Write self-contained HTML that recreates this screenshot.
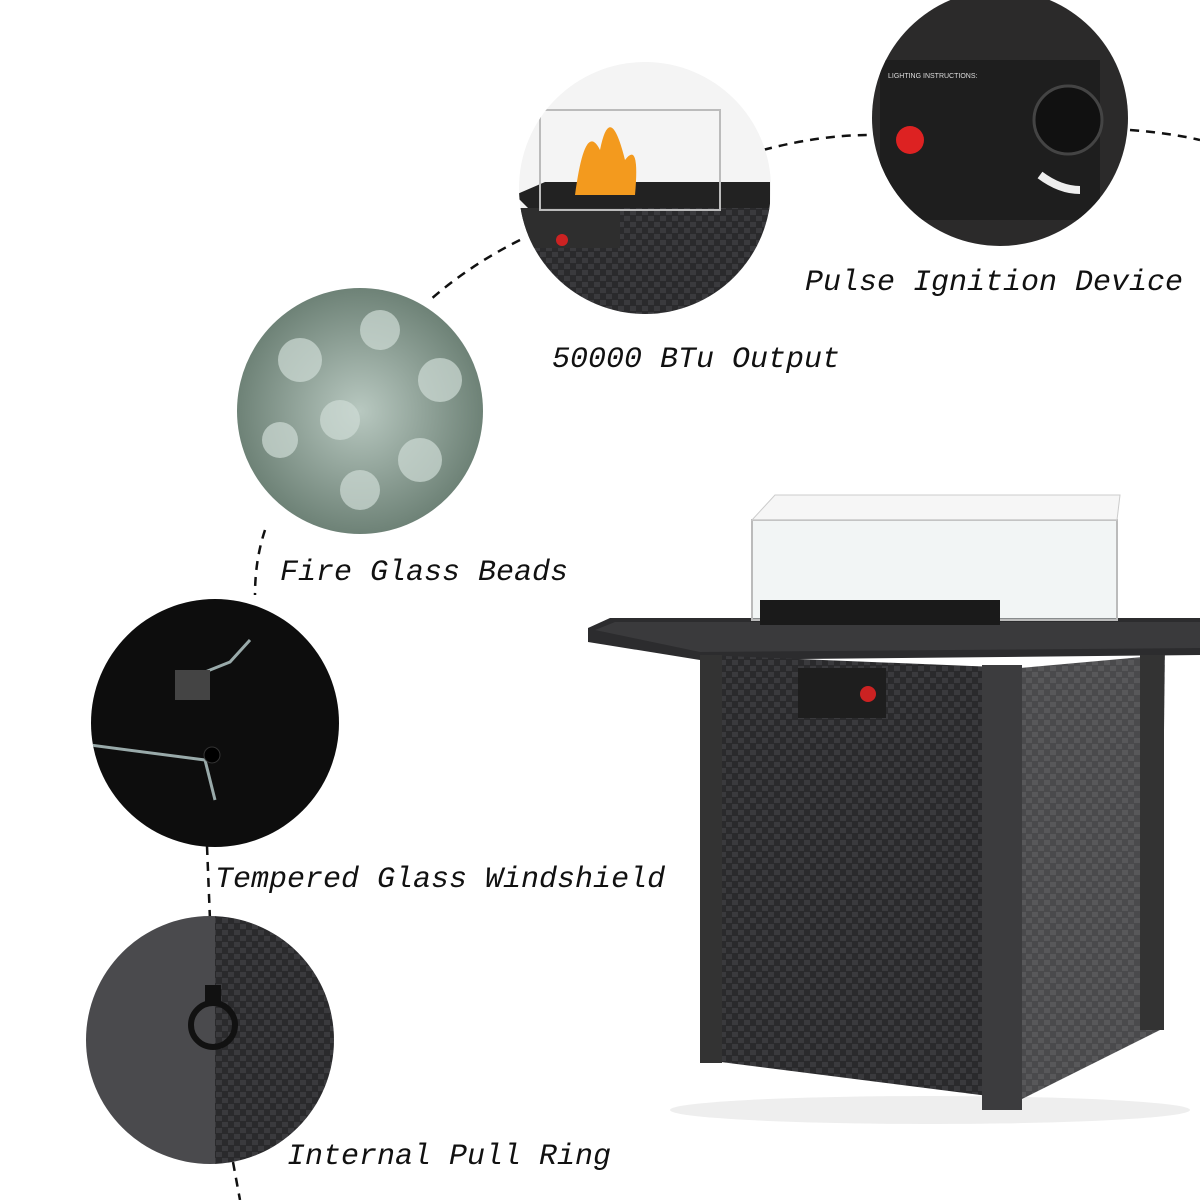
<!DOCTYPE html>
<html><head><meta charset="utf-8">
<style>
html,body{margin:0;padding:0;background:#fff;}
.wrap{position:relative;width:1200px;height:1200px;overflow:hidden;background:#fff;}
.t{position:absolute;font-family:"Liberation Mono",monospace;font-style:italic;font-size:30px;color:#111;white-space:nowrap;line-height:1;}
</style></head><body>
<div class="wrap">
<svg width="1200" height="1200" viewBox="0 0 1200 1200" style="position:absolute;left:0;top:0">
<defs>
<radialGradient id="bead" cx="50%" cy="50%" r="60%"><stop offset="0" stop-color="#b8c8c0"/><stop offset="1" stop-color="#5f7468"/></radialGradient>
<pattern id="wick" width="12" height="12" patternUnits="userSpaceOnUse"><rect width="12" height="12" fill="#2a2a2c"/><rect x="0" y="0" width="6" height="5" fill="#3a3a3d"/><rect x="6" y="6" width="6" height="5" fill="#3a3a3d"/></pattern>
<clipPath id="c1"><circle cx="645" cy="188" r="126"/></clipPath>
<clipPath id="c2"><circle cx="1000" cy="118" r="128"/></clipPath>
<clipPath id="c5"><circle cx="210" cy="1040" r="124"/></clipPath>
<clipPath id="c4"><circle cx="215" cy="723" r="124"/></clipPath>
</defs>
<g fill="none" stroke="#111" stroke-width="2.5" stroke-dasharray="9 7">
<path d="M1130 130 Q1170 133 1200 140"/>
<path d="M763 150 Q820 135 870 135"/>
<path d="M520 240 Q470 265 430 300"/>
<path d="M265 530 Q255 560 255 595"/>
<path d="M207 846 L210 920"/>
<path d="M233 1162 L240 1200"/>
</g>
<!-- top center circle -->
<g clip-path="url(#c1)">
<rect x="510" y="55" width="270" height="270" fill="#f4f4f4"/>
<polygon points="515,195 545,182 770,182 770,210 530,210" fill="#222"/>
<rect x="520" y="208" width="250" height="110" fill="url(#wick)"/>
<rect x="520" y="208" width="100" height="40" fill="#2e2e2e"/>
<circle cx="562" cy="240" r="6" fill="#c22"/>
<rect x="540" y="110" width="180" height="100" fill="none" stroke="#bbb" stroke-width="2"/>
<path d="M575 195 Q585 120 600 150 Q610 100 625 160 Q640 140 635 195 Z" fill="#f39a1e"/>
</g>
<!-- top right -->
<g clip-path="url(#c2)">
<rect x="860" y="-20" width="280" height="280" fill="#2b2a2a"/>
<rect x="880" y="60" width="220" height="160" fill="#1e1e1e"/>
<circle cx="910" cy="140" r="14" fill="#d22"/>
<circle cx="1068" cy="120" r="34" fill="#111" stroke="#444" stroke-width="3"/>
<path d="M1040 175 Q1060 190 1080 190" stroke="#eee" stroke-width="8" fill="none"/>
<text x="888" y="78" fill="#ddd" font-size="7" font-family="Liberation Sans">LIGHTING INSTRUCTIONS:</text>
</g>
<!-- beads -->
<circle cx="360" cy="411" r="123" fill="url(#bead)"/>
<g fill="#cfdcd6" opacity="0.7"><circle cx="300" cy="360" r="22"/><circle cx="380" cy="330" r="20"/><circle cx="440" cy="380" r="22"/><circle cx="340" cy="420" r="20"/><circle cx="420" cy="460" r="22"/><circle cx="280" cy="440" r="18"/><circle cx="360" cy="490" r="20"/></g>
<!-- tempered glass -->
<g clip-path="url(#c4)">
<rect x="85" y="595" width="260" height="260" fill="#0d0d0d"/>
<path d="M90 745 L205 760 L215 800 M185 680 L230 662 L250 640" stroke="#9aa" stroke-width="3" fill="none"/>
<rect x="175" y="670" width="35" height="30" fill="#444"/>
<circle cx="212" cy="755" r="8" fill="#000" stroke="#333"/>
</g>
<!-- pull ring -->
<g clip-path="url(#c5)">
<rect x="85" y="915" width="130" height="250" fill="#4a4a4d"/>
<rect x="215" y="915" width="125" height="250" fill="url(#wick)"/>
<circle cx="213" cy="1025" r="22" fill="none" stroke="#111" stroke-width="6"/>
<rect x="205" y="985" width="16" height="18" fill="#111"/>
</g>
<!-- big fire pit -->
<ellipse cx="930" cy="1110" rx="260" ry="14" fill="#eee"/>
<polygon points="588,628 610,618 1200,618 1200,655 700,660 588,642" fill="#2c2c2e"/>
<polygon points="595,630 615,622 1200,622 1200,648 700,652" fill="#3a3a3c"/>
<polygon points="700,655 1020,668 1020,1100 705,1060" fill="url(#wick)"/>
<polygon points="1020,668 1165,655 1160,1030 1020,1100" fill="url(#wick)" opacity="0.85"/>
<rect x="700" y="655" width="22" height="408" fill="#333"/>
<rect x="982" y="665" width="40" height="445" fill="#3c3c3e"/>
<rect x="1140" y="655" width="24" height="375" fill="#333"/>
<rect x="798" y="668" width="88" height="50" fill="#1e1e1e"/>
<circle cx="868" cy="694" r="8" fill="#c22"/>
<rect x="752" y="520" width="365" height="100" fill="rgba(230,235,235,0.5)" stroke="#bbb" stroke-width="2"/>
<polygon points="752,520 775,495 1120,495 1117,520" fill="rgba(240,240,240,0.6)" stroke="#ccc"/>
<rect x="760" y="600" width="240" height="25" fill="#1a1a1a"/>
</svg>
<div class="t" style="left:805px;top:268px">Pulse Ignition Device</div>
<div class="t" style="left:552px;top:345px">50000 BTu Output</div>
<div class="t" style="left:280px;top:558px">Fire Glass Beads</div>
<div class="t" style="left:215px;top:865px">Tempered Glass Windshield</div>
<div class="t" style="left:287px;top:1142px">Internal Pull Ring</div>
</div>
</body></html>
